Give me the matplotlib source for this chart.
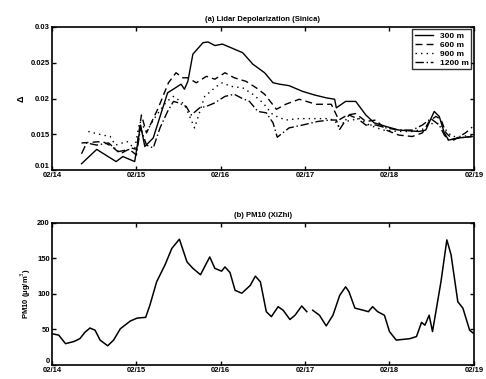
import numpy as np
import matplotlib
matplotlib.use("Agg")
import matplotlib.pyplot as plt

plt.rcParams["font.family"] = ["Liberation Sans", "DejaVu Sans"]

# x in day-of-February (fractional)
day_ticks = [14, 15, 16, 17, 18, 19]
day_labels = ["02/14", "02/15", "02/16", "02/17", "02/18", "02/19"]

# (a) lidar depolarization at four heights
t300 = [14.35, 14.53, 14.76, 14.84, 14.98, 15.05, 15.10, 15.20, 15.37, 15.53, 15.57, 15.61,
        15.67, 15.79, 15.85, 15.93, 16.02, 16.12, 16.26, 16.38, 16.52, 16.62, 16.70, 16.81,
        16.97, 17.11, 17.25, 17.35, 17.37, 17.48, 17.60, 17.72, 17.82, 17.96, 18.11, 18.35,
        18.43, 18.53, 18.59, 18.65, 18.70, 18.82, 18.98]
d300 = [0.0109, 0.0129, 0.0112, 0.0119, 0.0112, 0.0163, 0.0133, 0.0145, 0.0208, 0.0220, 0.0213, 0.0224,
        0.0262, 0.0278, 0.0279, 0.0274, 0.0276, 0.0271, 0.0264, 0.0248, 0.0236, 0.0222, 0.0220, 0.0218,
        0.0210, 0.0205, 0.0201, 0.0199, 0.0187, 0.0196, 0.0196, 0.0177, 0.0166, 0.0161, 0.0156, 0.0154,
        0.0156, 0.0182, 0.0175, 0.0152, 0.0142, 0.0145, 0.0147]

t600 = [14.35, 14.60, 14.71, 14.81, 14.94, 15.00, 15.06, 15.12, 15.26, 15.38, 15.47, 15.55, 15.61,
        15.71, 15.83, 15.93, 16.05, 16.16, 16.30, 16.42, 16.52, 16.66, 16.77, 16.93, 17.13, 17.31,
        17.40, 17.50, 17.60, 17.72, 17.84, 17.96, 18.11, 18.27, 18.39, 18.47, 18.55, 18.61, 18.67,
        18.76, 18.90, 18.98]
d600 = [0.0138, 0.0140, 0.0133, 0.0123, 0.0131, 0.0129, 0.0177, 0.0152, 0.0187, 0.0222, 0.0236, 0.0229, 0.0229,
        0.0222, 0.0231, 0.0227, 0.0236, 0.0229, 0.0224, 0.0215, 0.0206, 0.0185, 0.0192, 0.0199, 0.0192, 0.0192,
        0.0170, 0.0177, 0.0179, 0.0168, 0.0170, 0.0156, 0.0149, 0.0147, 0.0152, 0.0168, 0.0175, 0.0171, 0.0152,
        0.0142, 0.0152, 0.0160]

t900 = [14.43, 14.60, 14.69, 14.75, 14.89, 14.98, 15.04, 15.12, 15.24, 15.36, 15.44, 15.57, 15.69,
        15.81, 15.95, 16.02, 16.12, 16.26, 16.38, 16.50, 16.62, 16.77, 16.93, 17.09, 17.25, 17.35,
        17.39, 17.48, 17.64, 17.76, 17.92, 18.11, 18.27, 18.39, 18.49, 18.59, 18.67, 18.74, 18.86, 18.98]
d900 = [0.0154, 0.0149, 0.0147, 0.0135, 0.0140, 0.0130, 0.0168, 0.0154, 0.0177, 0.0196, 0.0203, 0.0192, 0.0159,
        0.0203, 0.0217, 0.0222, 0.0217, 0.0215, 0.0206, 0.0194, 0.0177, 0.0170, 0.0172, 0.0172, 0.0172, 0.0170,
        0.0161, 0.0168, 0.0172, 0.0163, 0.0156, 0.0154, 0.0154, 0.0157, 0.0165, 0.0165, 0.0156, 0.0147, 0.0147, 0.0149]

t1200 = [14.35, 14.41, 14.53, 14.67, 14.79, 14.92, 15.00, 15.05, 15.12, 15.20, 15.28, 15.37, 15.44,
         15.50, 15.59, 15.65, 15.75, 15.83, 15.93, 16.05, 16.16, 16.24, 16.34, 16.44, 16.54, 16.62,
         16.67, 16.81, 16.97, 17.15, 17.29, 17.37, 17.41, 17.52, 17.62, 17.72, 17.84, 17.96, 18.11,
         18.27, 18.39, 18.49, 18.59, 18.65, 18.70, 18.82, 18.98]
d1200 = [0.0123, 0.0138, 0.0135, 0.0138, 0.0126, 0.0129, 0.0121, 0.0159, 0.0135, 0.0131, 0.0159, 0.0182, 0.0196,
         0.0194, 0.0189, 0.0177, 0.0187, 0.0189, 0.0194, 0.0203, 0.0206, 0.0201, 0.0196, 0.0182, 0.0180, 0.0166,
         0.0146, 0.0159, 0.0163, 0.0168, 0.0170, 0.0170, 0.0157, 0.0177, 0.0172, 0.0163, 0.0163, 0.0159, 0.0156,
         0.0156, 0.0163, 0.0172, 0.0163, 0.0149, 0.0142, 0.0145, 0.0147]

# (b) PM10 at XiZhi (NaN = missing hour)
t_pm = [14.00, 14.08, 14.16, 14.26, 14.33, 14.39, 14.45, 14.51, 14.57, 14.66, 14.73, 14.81, 14.93,
        15.01, 15.11, 15.16, 15.24, 15.34, 15.42, 15.51, 15.60, 15.67, 15.76, 15.83, 15.87, 15.93,
        16.01, 16.05, 16.11, 16.17, 16.25, 16.35, 16.41, 16.47, 16.54, 16.60, 16.68, 16.74, 16.82,
        16.88, 16.96, 17.02, 17.05, 17.09, 17.17, 17.25, 17.33, 17.41, 17.48, 17.52, 17.59, 17.69,
        17.75, 17.80, 17.86, 17.94, 18.00, 18.08, 18.16, 18.24, 18.32, 18.38, 18.42, 18.47, 18.51,
        18.61, 18.68, 18.73, 18.81, 18.87, 18.95, 18.99]
pm10 = [44, 42, 30, 33, 37, 46, 52, 49, 35, 27, 35, 51, 62,
        66, 67, 84, 117, 141, 164, 177, 145, 136, 127, 143, 152, 136,
        132, 138, 130, 105, 101, 112, 125, 117, 75, 68, 82, 77, 64,
        70, 83, 75, np.nan, 77, 70, 55, 70, 98, 110, 103, 80, 77,
        75, 82, 75, 70, 47, 35, 36, 37, 40, 60, 56, 70, 47,
        117, 176, 155, 89, 80, 49, 45]

heights = ["300 m", "600 m", "900 m", "1200 m"]
styles = ["-", (0, (5, 3)), (0, (1, 3)), (0, (6, 2, 1, 2))]

fs = 5.5
fig = plt.figure(figsize=(4.86, 3.79), dpi=100)
ax1 = fig.add_axes([0.107, 0.551, 0.868, 0.378])
ax2 = fig.add_axes([0.107, 0.037, 0.868, 0.375])

for t, d, lab, ls in zip([t300, t600, t900, t1200], [d300, d600, d900, d1200], heights, styles):
    ax1.plot(t, d, color="k", lw=1.0, ls=ls, label=lab)
ax1.set_ylim(0.01, 0.03)
ax1.set_yticks([0.01, 0.015, 0.02, 0.025, 0.03])
ax1.set_yticklabels(["0.01", "0.015", "0.02", "0.025", "0.03"])
ax1.set_ylabel("Δ", fontsize=fs + 1, fontweight="bold", labelpad=4)
ax1.set_title("(a) Lidar Depolarization (Sinica)", fontsize=fs, fontweight="bold", pad=4)
leg = ax1.legend(loc="upper right", fontsize=fs + 0.5, frameon=True, fancybox=False,
                 edgecolor="k", handlelength=2.2, borderpad=0.3, labelspacing=0.15,
                 borderaxespad=0.3)
leg.get_frame().set_linewidth(1.0)
for txt in leg.get_texts():
    txt.set_fontweight("bold")

ax2.plot(t_pm, pm10, color="k", lw=1.1)
ax2.set_ylim(0, 200)
ax2.set_yticks([0, 50, 100, 150, 200])
ax2.set_ylabel("PM10 (μg/m$^3$)", fontsize=fs, fontweight="bold", labelpad=3)
ax2.set_title("(b) PM10 (XiZhi)", fontsize=fs, fontweight="bold", pad=4)

for ax in (ax1, ax2):
    ax.set_xlim(14, 19)
    ax.set_xticks(day_ticks)
    ax.set_xticklabels(day_labels)
    ax.tick_params(direction="in", top=True, right=True, length=3, width=1,
                   labelsize=fs, pad=1.5)
    for lbl in ax.get_xticklabels() + ax.get_yticklabels():
        lbl.set_fontweight("bold")
    # lowest y label sits just above the corner, as in the original
    ax.get_yticklabels()[0].set_verticalalignment("bottom")
    for s in ax.spines.values():
        s.set_linewidth(1.2)

fig.savefig("out.png", dpi=100)
